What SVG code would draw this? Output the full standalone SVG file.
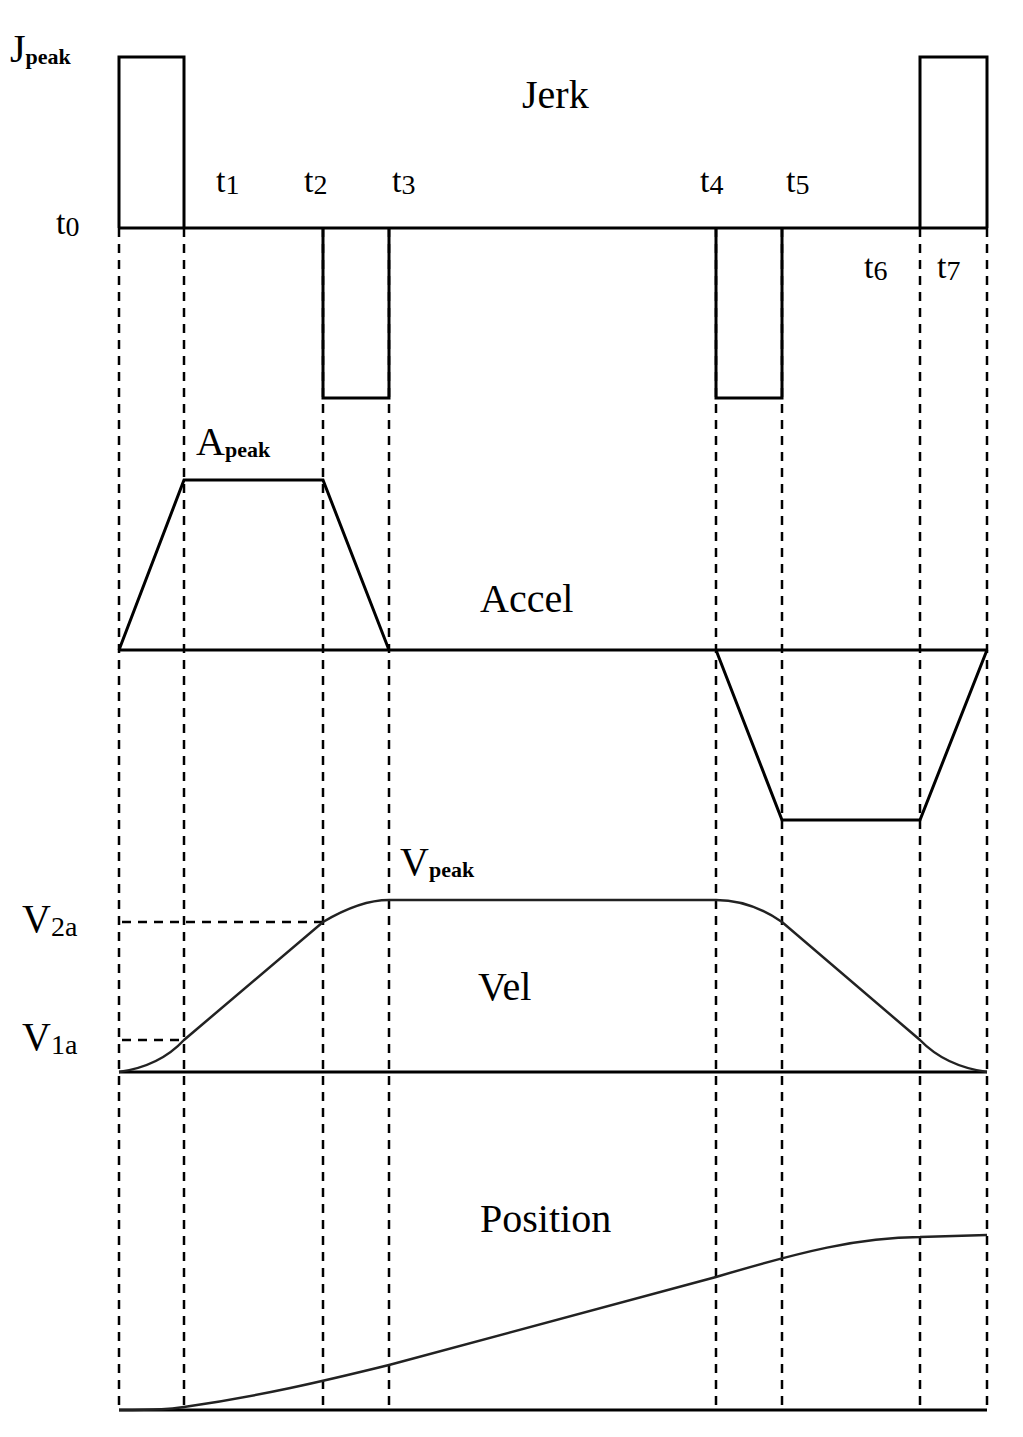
<svg xmlns="http://www.w3.org/2000/svg" width="1023" height="1437" viewBox="0 0 1023 1437">
<style>
.s{fill:none;stroke:#000;stroke-width:3}
.d{fill:none;stroke:#000;stroke-width:2.5;stroke-dasharray:9 7}
.c{fill:none;stroke:#222;stroke-width:2.5}
text{font-family:"Liberation Serif",serif;fill:#000}
.l{font-size:40px}
.t{font-size:34px}
.sub{font-size:22px;font-weight:bold}
</style>
<rect width="1023" height="1437" fill="#fff"/>
<g id="grid">
<path class="d" d="M119 228V1410M184 228V1410M323 228V1410M389 228V1410M716 228V1410M782 228V1410M920 228V1410M987 228V1410"/>
<path class="d" d="M122 922H323M122 1040H184"/>
</g>
<g id="jerk">
<path class="s" d="M119 228H987"/>
<path class="s" d="M119 228V57H184V228M323 228V398H389V228M716 228V398H782V228M920 228V57H987V228"/>
</g>
<g id="accel">
<path class="s" d="M119 650H987M119 650L184 480H323L389 650M716 650L782 820H920L987 650"/>
</g>
<g id="vel">
<path class="s" d="M119 1072H987"/>
<path class="c" d="M119 1072Q160 1066 184 1040L323 922Q360 900 389 900H716Q750 900 782 922L920 1040Q945 1066 987 1072"/>
</g>
<g id="position">
<path class="s" d="M119 1410H987"/>
<path class="c" d="M119 1410C160 1410 170 1409 184 1407C260 1396 320 1382 389 1365L716 1277C800 1252 860 1237 920 1237L987 1235"/>
</g>
<g id="labels">
<text class="l" x="10" y="62">J<tspan class="sub" dy="2">peak</tspan></text>
<text class="l" x="522" y="108">Jerk</text>
<text class="t" x="56" y="234">t<tspan font-size="28" dy="2">0</tspan></text>
<text class="t" x="216" y="192">t<tspan font-size="28" dy="2">1</tspan></text>
<text class="t" x="304" y="192">t<tspan font-size="28" dy="2">2</tspan></text>
<text class="t" x="392" y="192">t<tspan font-size="28" dy="2">3</tspan></text>
<text class="t" x="700" y="192">t<tspan font-size="28" dy="2">4</tspan></text>
<text class="t" x="786" y="192">t<tspan font-size="28" dy="2">5</tspan></text>
<text class="t" x="864" y="278">t<tspan font-size="28" dy="2">6</tspan></text>
<text class="t" x="937" y="278">t<tspan font-size="28" dy="2">7</tspan></text>
<text class="l" x="196" y="455">A<tspan class="sub" dy="2">peak</tspan></text>
<text class="l" x="480" y="612">Accel</text>
<text class="l" x="400" y="875">V<tspan class="sub" dy="2">peak</tspan></text>
<text class="l" x="22" y="932">V<tspan font-size="28" dy="4">2a</tspan></text>
<text class="l" x="478" y="1000">Vel</text>
<text class="l" x="22" y="1050">V<tspan font-size="28" dy="4">1a</tspan></text>
<text class="l" x="480" y="1232">Position</text>
</g>
</svg>
